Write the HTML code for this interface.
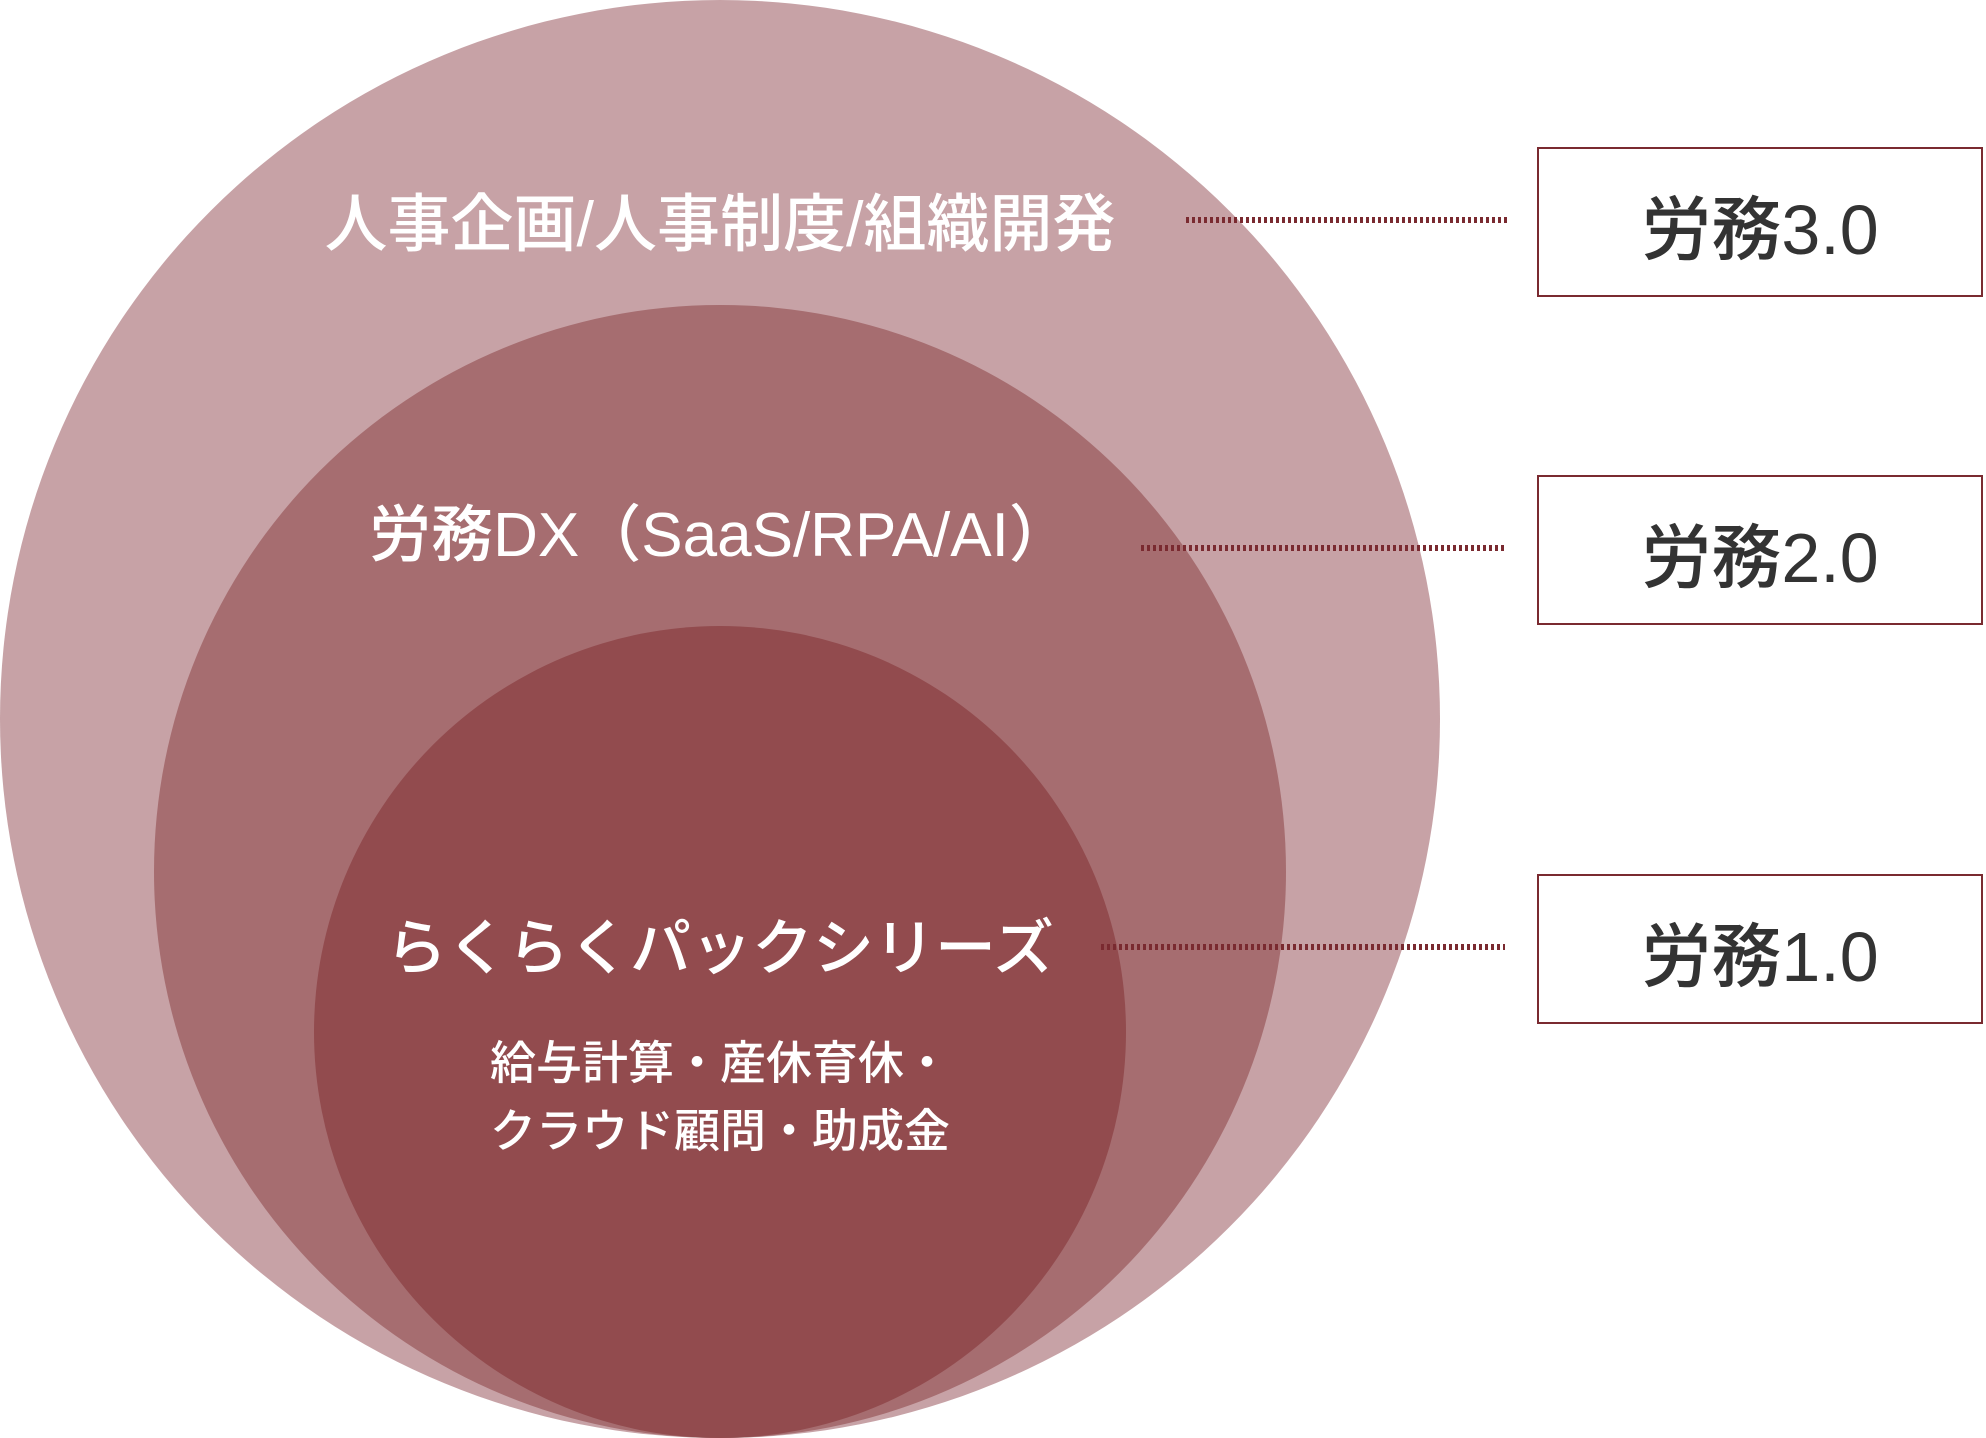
<!DOCTYPE html>
<html><head><meta charset="utf-8"><style>
html,body{margin:0;padding:0;background:#fff;}
body{width:1986px;height:1438px;position:relative;overflow:hidden;font-family:"Liberation Sans","Noto Sans CJK JP",sans-serif;font-weight:500;}
.c{position:absolute;border-radius:50%;}
.t{position:absolute;left:0;width:1440px;text-align:center;color:#fff;white-space:nowrap;}
.box{position:absolute;left:1537px;width:446px;height:150px;border:2px solid #7a2a30;background:#fff;box-sizing:border-box;color:#333;font-size:70px;text-align:center;line-height:162px;}
.dot{position:absolute;height:6px;background:repeating-linear-gradient(90deg,#7a2a30 0 3px,transparent 3px 6px);}
</style></head><body>
<div class="c" style="left:0;top:0;width:1440px;height:1438px;background:#c7a2a6"></div>
<div class="c" style="left:154px;top:305px;width:1132px;height:1133px;background:#a66d70"></div>
<div class="c" style="left:314px;top:626px;width:812px;height:812px;background:#924b4e"></div>
<div class="t" style="top:174px;font-size:63px;">人事企画/人事制度/組織開発</div>
<div class="t" style="top:484px;font-size:62px;">労務DX（SaaS/RPA/AI）</div>
<div class="t" style="top:898px;font-size:61px;">らくらくパックシリーズ</div>
<div class="t" style="top:1029px;font-size:46px;line-height:68px;">給与計算・産休育休・<br>クラウド顧問・助成金</div>
<div class="dot" style="left:1186px;width:324px;top:217px"></div>
<div class="dot" style="left:1141px;width:364px;top:545px"></div>
<div class="dot" style="left:1101px;width:404px;top:944px"></div>
<div class="box" style="top:147px">労務3.0</div>
<div class="box" style="top:475px">労務2.0</div>
<div class="box" style="top:874px">労務1.0</div>
</body></html>
